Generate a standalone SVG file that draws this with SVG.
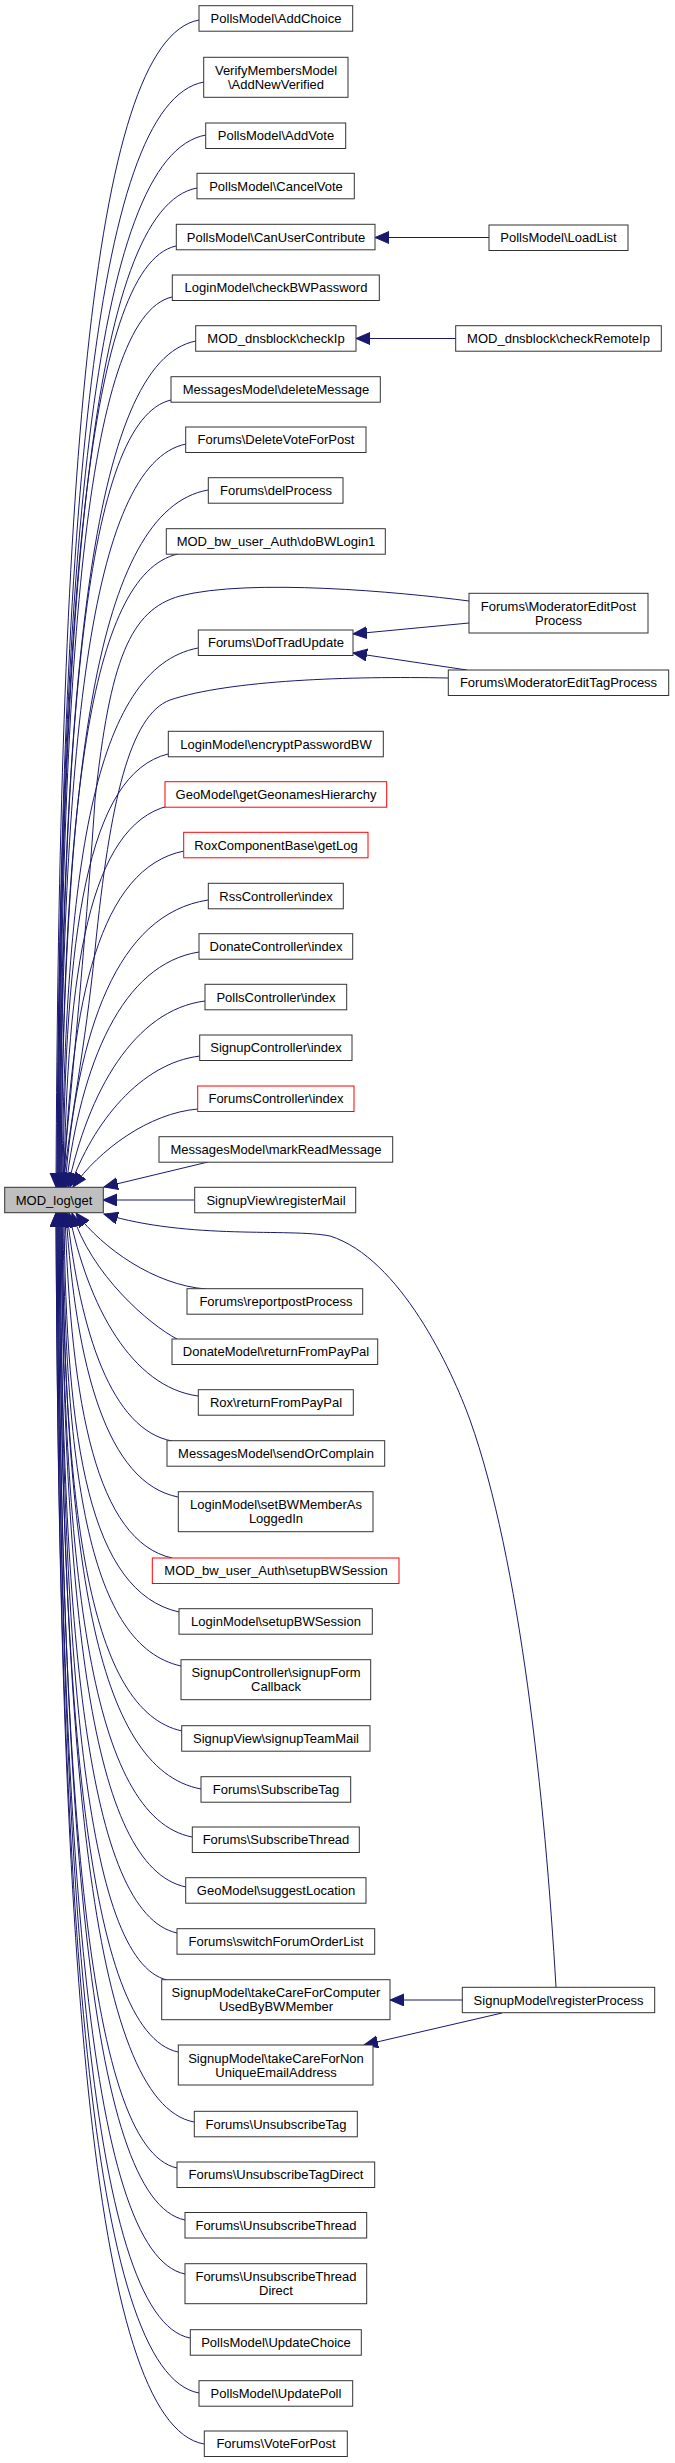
<svg xmlns="http://www.w3.org/2000/svg" width="675" height="2463" viewBox="0 0 675 2463">
<style>
.n rect{fill:#fff;stroke:#333;stroke-width:1}
.r rect{fill:#fff;stroke:#f00;stroke-width:1}
.m rect{fill:#bfbfbf;stroke:#333;stroke-width:1}
text{font-family:"Liberation Sans",Arial,sans-serif;font-size:13px;text-anchor:middle;fill:#000}
.e path{fill:none;stroke:#191970;stroke-width:1;marker-end:url(#ah)}
</style>
<defs>
<marker id="ah" markerUnits="userSpaceOnUse" markerWidth="16" markerHeight="14" refX="14" refY="6" orient="auto"><path d="M0,0 L14,6 L0,12 z" fill="#191970" stroke="#191970" stroke-width="1"/></marker>
</defs>
<rect width="675" height="2463" fill="#fff"/>
<g id="edges" class="e">
<path d="M199,20 C89,40 59,504 56,1187"/>
<path d="M204,82 C91,102 60,541 57,1187"/>
<path d="M206,135 C91,155 60,572 57,1187"/>
<path d="M197,188 C90,208 61,603 58,1187"/>
<path d="M176,246 C85,266 60,637 58,1187"/>
<path d="M172,297 C85,317 61,666 59,1187"/>
<path d="M196,341 C90,361 62,692 59,1187"/>
<path d="M171,400 C85,420 62,727 60,1187"/>
<path d="M186,444 C89,464 62,752 60,1187"/>
<path d="M208,490 C95,510 64,779 61,1187"/>
<path d="M178,554 C88,574 63,817 61,1187"/>
<path d="M469,601 C400,592 250,578 180,596 C130,610 110,660 95,800 C85,950 70,1100 62,1187"/>
<path d="M198,648 C93,668 65,872 62,1187"/>
<path d="M448,678 C350,676 230,680 170,700 C130,715 110,800 95,950 C85,1050 70,1120 63,1187"/>
<path d="M168,754 C87,774 65,933 63,1187"/>
<path d="M168,806 C90,826 67,967 64,1187"/>
<path d="M184,851 C100,868 71,997 64,1187"/>
<path d="M208,900 C117,914 77,1030 65,1187"/>
<path d="M199,952 C122,964 81,1063 66,1187"/>
<path d="M205,1001 C134,1010 88,1092 68,1187"/>
<path d="M200,1056 C141,1063 93,1122 70,1187"/>
<path d="M198,1109 C149,1113 99,1150 73,1187"/>
<path d="M208,1162 L104,1187"/>
<path d="M194,1200 L103,1200"/>
<path d="M206,1289 C155,1285 103,1249 76,1213"/>
<path d="M177,1339 C150,1325 91,1275 72,1213"/>
<path d="M198,1396 C132,1387 88,1307 69,1213"/>
<path d="M172,1441 C112,1430 80,1333 67,1213"/>
<path d="M178,1497 C107,1483 76,1368 66,1213"/>
<path d="M172,1558 C97,1541 71,1408 65,1213"/>
<path d="M179,1612 C90,1592 66,1446 64,1213"/>
<path d="M181,1666 C90,1646 65,1478 63,1213"/>
<path d="M182,1731 C90,1711 64,1516 62,1213"/>
<path d="M201,1789 C94,1769 65,1550 62,1213"/>
<path d="M192,1837 C91,1817 64,1578 61,1213"/>
<path d="M186,1887 C90,1867 64,1607 61,1213"/>
<path d="M177,1933 C87,1913 62,1634 60,1213"/>
<path d="M167,1980 C85,1960 62,1662 60,1213"/>
<path d="M178,2052 C86,2032 61,1704 59,1213"/>
<path d="M194,2122 C90,2102 62,1745 59,1213"/>
<path d="M177,2168 C85,2148 60,1772 58,1213"/>
<path d="M185,2220 C87,2200 61,1802 58,1213"/>
<path d="M185,2274 C86,2254 60,1834 57,1213"/>
<path d="M190,2338 C88,2318 60,1871 57,1213"/>
<path d="M199,2393 C89,2373 59,1903 56,1213"/>
<path d="M204,2444 C90,2424 59,1933 56,1213"/>
<path d="M556,1987 C545,1800 520,1560 470,1420 C452,1370 400,1258 330,1236 C290,1228 190,1240 104,1214"/>
<path d="M489,237.5 L375,237.5"/>
<path d="M456,338.5 L356,338.5"/>
<path d="M469,623 L353,634"/>
<path d="M467,670 L353,653"/>
<path d="M462,2000 L390,2000"/>
<path d="M502,2013 L364,2045"/>
</g>
<g id="n0" class="m"><rect x="4.7" y="1187.3" width="98.6" height="25.4"/><text x="54" y="1204.5">MOD_log\get</text></g>
<g id="n1" class="n"><rect x="199" y="5.7" width="153.7" height="25.5"/><text x="276" y="23">PollsModel\AddChoice</text></g>
<g id="n2" class="n"><rect x="203.7" y="57.3" width="144.3" height="40"/><text x="276" y="74.8">VerifyMembersModel</text><text x="276" y="88.8">\AddNewVerified</text></g>
<g id="n3" class="n"><rect x="205.7" y="123" width="140" height="25.5"/><text x="276" y="140.3">PollsModel\AddVote</text></g>
<g id="n4" class="n"><rect x="197" y="173.3" width="157.3" height="25.5"/><text x="276" y="190.5">PollsModel\CancelVote</text></g>
<g id="n5" class="n"><rect x="176.3" y="224.3" width="198.7" height="25.5"/><text x="276" y="241.5">PollsModel\CanUserContribute</text></g>
<g id="n6" class="n"><rect x="172.3" y="275" width="207" height="25.5"/><text x="276" y="292.3">LoginModel\checkBWPassword</text></g>
<g id="n7" class="n"><rect x="195.7" y="325.7" width="160.3" height="25.5"/><text x="276" y="343">MOD_dnsblock\checkIp</text></g>
<g id="n8" class="n"><rect x="171" y="376.7" width="209.3" height="25.5"/><text x="276" y="394">MessagesModel\deleteMessage</text></g>
<g id="n9" class="n"><rect x="185.7" y="427" width="180.3" height="25.5"/><text x="276" y="444.3">Forums\DeleteVoteForPost</text></g>
<g id="n10" class="n"><rect x="208.3" y="477.7" width="134.7" height="25.5"/><text x="276" y="495">Forums\delProcess</text></g>
<g id="n11" class="n"><rect x="166.3" y="528.7" width="219" height="25.5"/><text x="276" y="546">MOD_bw_user_Auth\doBWLogin1</text></g>
<g id="n12" class="n"><rect x="198.3" y="630" width="154.7" height="25.5"/><text x="276" y="647.3">Forums\DofTradUpdate</text></g>
<g id="n13" class="n"><rect x="168.3" y="731.3" width="215" height="25.5"/><text x="276" y="748.5">LoginModel\encryptPasswordBW</text></g>
<g id="n14" class="r"><rect x="165" y="781.7" width="221.7" height="25.5"/><text x="276" y="799">GeoModel\getGeonamesHierarchy</text></g>
<g id="n15" class="r"><rect x="183.7" y="832.3" width="184.3" height="25.5"/><text x="276" y="849.5">RoxComponentBase\getLog</text></g>
<g id="n16" class="n"><rect x="208.3" y="883.3" width="135" height="25.5"/><text x="276" y="900.5">RssController\index</text></g>
<g id="n17" class="n"><rect x="199" y="933.7" width="153.7" height="25.5"/><text x="276" y="951">DonateController\index</text></g>
<g id="n18" class="n"><rect x="205" y="984.3" width="141.7" height="25.5"/><text x="276" y="1001.5">PollsController\index</text></g>
<g id="n19" class="n"><rect x="199.7" y="1035" width="152.3" height="25.5"/><text x="276" y="1052.3">SignupController\index</text></g>
<g id="n20" class="r"><rect x="197.7" y="1086" width="156.3" height="25.5"/><text x="276" y="1103.3">ForumsController\index</text></g>
<g id="n21" class="n"><rect x="159" y="1136.7" width="233.7" height="25.5"/><text x="276" y="1154">MessagesModel\markReadMessage</text></g>
<g id="n22" class="n"><rect x="194.7" y="1187.3" width="161" height="25.5"/><text x="276" y="1204.5">SignupView\registerMail</text></g>
<g id="n23" class="n"><rect x="187" y="1288.7" width="175.7" height="25.5"/><text x="276" y="1306">Forums\reportpostProcess</text></g>
<g id="n24" class="n"><rect x="172" y="1339" width="205.7" height="25.5"/><text x="276" y="1356.3">DonateModel\returnFromPayPal</text></g>
<g id="n25" class="n"><rect x="198.3" y="1389.7" width="155" height="25.5"/><text x="276" y="1407">Rox\returnFromPayPal</text></g>
<g id="n26" class="n"><rect x="167" y="1440.7" width="217.7" height="25.5"/><text x="276" y="1458">MessagesModel\sendOrComplain</text></g>
<g id="n27" class="n"><rect x="178.3" y="1491.7" width="194.7" height="40"/><text x="276" y="1509.2">LoginModel\setBWMemberAs</text><text x="276" y="1523.2">LoggedIn</text></g>
<g id="n28" class="r"><rect x="152.3" y="1558" width="246.7" height="25.5"/><text x="276" y="1575.3">MOD_bw_user_Auth\setupBWSession</text></g>
<g id="n29" class="n"><rect x="179" y="1608.7" width="193.3" height="25.5"/><text x="276" y="1626">LoginModel\setupBWSession</text></g>
<g id="n30" class="n"><rect x="181" y="1659.7" width="189.7" height="40"/><text x="276" y="1677.2">SignupController\signupForm</text><text x="276" y="1691.2">Callback</text></g>
<g id="n31" class="n"><rect x="181.7" y="1725.7" width="188.3" height="25.5"/><text x="276" y="1743">SignupView\signupTeamMail</text></g>
<g id="n32" class="n"><rect x="201" y="1776.7" width="149.7" height="25.5"/><text x="276" y="1794">Forums\SubscribeTag</text></g>
<g id="n33" class="n"><rect x="192.3" y="1827" width="167" height="25.5"/><text x="276" y="1844.3">Forums\SubscribeThread</text></g>
<g id="n34" class="n"><rect x="185.7" y="1877.7" width="180.3" height="25.5"/><text x="276" y="1895">GeoModel\suggestLocation</text></g>
<g id="n35" class="n"><rect x="177" y="1928.7" width="197.7" height="25.5"/><text x="276" y="1946">Forums\switchForumOrderList</text></g>
<g id="n36" class="n"><rect x="161.7" y="1979.7" width="228.3" height="40"/><text x="276" y="1997.2">SignupModel\takeCareForComputer</text><text x="276" y="2011.2">UsedByBWMember</text></g>
<g id="n37" class="n"><rect x="178.3" y="2045" width="194.7" height="40"/><text x="276" y="2062.5">SignupModel\takeCareForNon</text><text x="276" y="2076.5">UniqueEmailAddress</text></g>
<g id="n38" class="n"><rect x="194.3" y="2111.3" width="163" height="25.5"/><text x="276" y="2128.5">Forums\UnsubscribeTag</text></g>
<g id="n39" class="n"><rect x="177" y="2162" width="197.7" height="25.5"/><text x="276" y="2179.3">Forums\UnsubscribeTagDirect</text></g>
<g id="n40" class="n"><rect x="185" y="2212.5" width="181.7" height="25.5"/><text x="276" y="2229.8">Forums\UnsubscribeThread</text></g>
<g id="n41" class="n"><rect x="185" y="2263.7" width="181.7" height="40"/><text x="276" y="2281.2">Forums\UnsubscribeThread</text><text x="276" y="2295.2">Direct</text></g>
<g id="n42" class="n"><rect x="190.3" y="2329.7" width="171" height="25.5"/><text x="276" y="2347">PollsModel\UpdateChoice</text></g>
<g id="n43" class="n"><rect x="199" y="2380.7" width="153.7" height="25.5"/><text x="276" y="2398">PollsModel\UpdatePoll</text></g>
<g id="n44" class="n"><rect x="204.3" y="2431" width="143" height="25.5"/><text x="276" y="2448.3">Forums\VoteForPost</text></g>
<g id="n45" class="n"><rect x="489" y="225" width="139" height="25.5"/><text x="558.5" y="242.3">PollsModel\LoadList</text></g>
<g id="n46" class="n"><rect x="455.7" y="325.7" width="205.6" height="25.5"/><text x="558.5" y="343">MOD_dnsblock\checkRemoteIp</text></g>
<g id="n47" class="n"><rect x="469" y="593.3" width="179" height="39.7"/><text x="558.5" y="610.8">Forums\ModeratorEditPost</text><text x="558.5" y="624.8">Process</text></g>
<g id="n48" class="n"><rect x="448.3" y="670" width="220.4" height="25.5"/><text x="558.5" y="687.3">Forums\ModeratorEditTagProcess</text></g>
<g id="n49" class="n"><rect x="462.3" y="1987.3" width="192.4" height="25.4"/><text x="558.5" y="2004.5">SignupModel\registerProcess</text></g>
</svg>
